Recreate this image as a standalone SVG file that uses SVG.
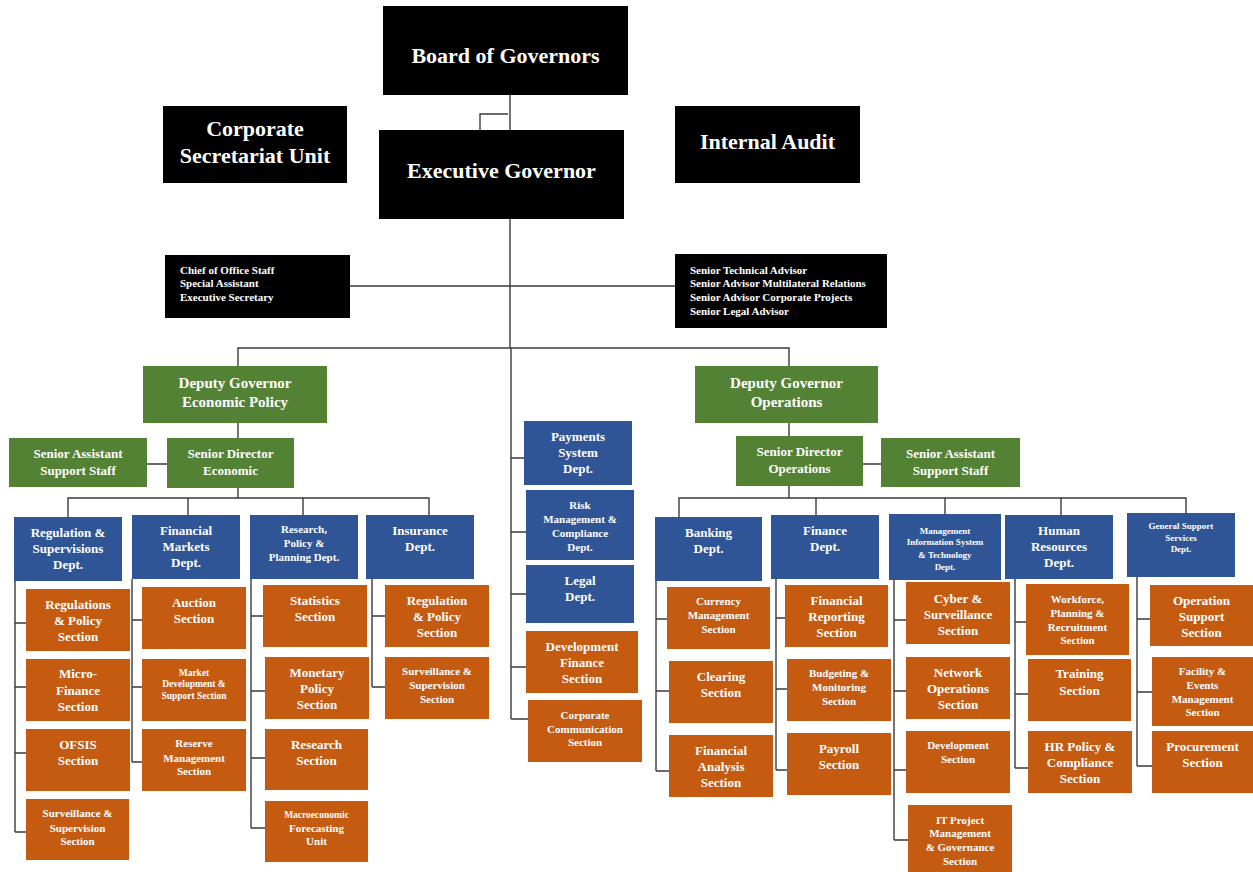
<svg xmlns="http://www.w3.org/2000/svg" width="1253" height="872" viewBox="0 0 1253 872">
<style>
.blk{fill:#000}
.grn{fill:#548235}
.blu{fill:#2F5597}
.org{fill:#C55A11}
text{font-family:"Liberation Serif","Times New Roman",serif;font-weight:bold;fill:#fff;text-anchor:middle}
.l{text-anchor:start}
.f22{font-size:22px}.f15{font-size:15px}.f13{font-size:13px}.f11{font-size:11px}.f95{font-size:9.5px}.f9{font-size:9px}
#connectors path{fill:none;stroke:#3a3a3a;stroke-width:1.4}
</style>
<rect width="1253" height="872" fill="#fff"/>
<g id="connectors">
<path d="M510 95V130M480 130V114H508M510 219V348M350 286H675M238 366V348H789V366"/>
<path d="M511 348V719M511 458H524M511 532H526M511 594H526M511 667H526M511 719H528"/>
<path d="M238 423V438M147 464H167M238 488V498M68 517V498H429V515M188 498V515M303 498V515"/>
<path d="M15 581V832M15 623H26M15 687H26M15 753H26M15 832H26"/>
<path d="M132 579V762M132 620H142M132 687H142M132 762H142"/>
<path d="M251 579V828M251 616H263M251 691H265M251 758H265M251 828H265"/>
<path d="M372 579V687M372 616H385M372 687H385"/>
<path d="M789 423V436M863 464H881M789 486V498M679 517V498H1186V513M816 498V515M945 498V514M1061 498V515"/>
<path d="M656 581V771M656 619H667M656 691H669M656 771H669"/>
<path d="M776 579V770M776 618H785M776 689H787M776 770H787"/>
<path d="M894 580V840M894 620H906M894 691H906M894 770H906M894 840H908"/>
<path d="M1015 579V768M1015 622H1026M1015 694H1028M1015 768H1028"/>
<path d="M1137 577V766M1137 619H1150M1137 692H1152M1137 766H1152"/>
</g>
<g id="board"><rect class="blk" x="383" y="6" width="245" height="89"/><text class="f22" x="505.5" y="63">Board of Governors</text></g>
<g id="corpsec"><rect class="blk" x="163" y="106" width="184" height="77"/><text class="f22"><tspan x="255" y="136">Corporate</tspan><tspan x="255" y="163">Secretariat Unit</tspan></text></g>
<g id="execgov"><rect class="blk" x="379" y="130" width="245" height="89"/><text class="f22" x="501.5" y="178">Executive Governor</text></g>
<g id="audit"><rect class="blk" x="675" y="106" width="185" height="77"/><text class="f22" x="767.5" y="149">Internal Audit</text></g>
<g id="chief"><rect class="blk" x="165" y="255" width="185" height="63"/><text class="f11 l"><tspan x="180" y="273.6">Chief of Office Staff</tspan><tspan x="180" y="286.6">Special Assistant</tspan><tspan x="180" y="301">Executive Secretary</tspan></text></g>
<g id="advisors"><rect class="blk" x="675" y="254" width="212" height="74"/><text class="f11 l"><tspan x="690" y="273.6">Senior Technical Advisor</tspan><tspan x="690" y="286.6">Senior Advisor Multilateral Relations</tspan><tspan x="690" y="300.6">Senior Advisor Corporate Projects</tspan><tspan x="690" y="314.6">Senior Legal Advisor</tspan></text></g>
<g id="dg-econ"><rect class="grn" x="143" y="366" width="184" height="57"/><text class="f15"><tspan x="235" y="388">Deputy Governor</tspan><tspan x="235" y="407">Economic Policy</tspan></text></g>
<g id="sass-econ"><rect class="grn" x="9" y="438" width="138" height="49"/><text class="f13"><tspan x="78" y="458.3">Senior Assistant</tspan><tspan x="78" y="475.3">Support Staff</tspan></text></g>
<g id="sd-econ"><rect class="grn" x="167" y="438" width="127" height="50"/><text class="f13"><tspan x="230.5" y="458.3">Senior Director</tspan><tspan x="230.5" y="475.3">Economic</tspan></text></g>
<g id="dg-ops"><rect class="grn" x="695" y="366" width="183" height="57"/><text class="f15"><tspan x="786.5" y="388">Deputy Governor</tspan><tspan x="786.5" y="407">Operations</tspan></text></g>
<g id="sd-ops"><rect class="grn" x="736" y="436" width="127" height="50"/><text class="f13"><tspan x="799.5" y="456.3">Senior Director</tspan><tspan x="799.5" y="473.3">Operations</tspan></text></g>
<g id="sass-ops"><rect class="grn" x="881" y="438" width="139" height="49"/><text class="f13"><tspan x="950.5" y="458.3">Senior Assistant</tspan><tspan x="950.5" y="475.3">Support Staff</tspan></text></g>
<g id="payments"><rect class="blu" x="524" y="421" width="108" height="64"/><text class="f13"><tspan x="578" y="441.3">Payments</tspan><tspan x="578" y="457.3">System</tspan><tspan x="578" y="473.3">Dept.</tspan></text></g>
<g id="risk"><rect class="blu" x="526" y="490" width="108" height="70"/><text class="f11"><tspan x="580" y="508.6">Risk</tspan><tspan x="580" y="522.6">Management &amp;</tspan><tspan x="580" y="536.6">Compliance</tspan><tspan x="580" y="550.6">Dept.</tspan></text></g>
<g id="legal"><rect class="blu" x="526" y="565" width="108" height="58"/><text class="f13"><tspan x="580" y="585.3">Legal</tspan><tspan x="580" y="601.3">Dept.</tspan></text></g>
<g id="devfin"><rect class="org" x="526" y="631" width="112" height="62"/><text class="f13"><tspan x="582" y="651.3">Development</tspan><tspan x="582" y="667.3">Finance</tspan><tspan x="582" y="683.3">Section</tspan></text></g>
<g id="corpcomm"><rect class="org" x="528" y="700" width="114" height="62"/><text class="f11"><tspan x="585" y="718.6">Corporate</tspan><tspan x="585" y="732.6">Communication</tspan><tspan x="585" y="745.6">Section</tspan></text></g>
<g id="regsup"><rect class="blu" x="14" y="517" width="108" height="64"/><text class="f13"><tspan x="68" y="537.3">Regulation &amp;</tspan><tspan x="68" y="553.3">Supervisions</tspan><tspan x="68" y="569.3">Dept.</tspan></text></g>
<g id="finmkts"><rect class="blu" x="132" y="515" width="108" height="64"/><text class="f13"><tspan x="186" y="535.3">Financial</tspan><tspan x="186" y="551.3">Markets</tspan><tspan x="186" y="567.3">Dept.</tspan></text></g>
<g id="rpp"><rect class="blu" x="250" y="515" width="108" height="64"/><text class="f11"><tspan x="304" y="532.6">Research,</tspan><tspan x="304" y="546.6">Policy &amp;</tspan><tspan x="304" y="560.6">Planning Dept.</tspan></text></g>
<g id="insurance"><rect class="blu" x="366" y="515" width="108" height="64"/><text class="f13"><tspan x="420" y="535.3">Insurance</tspan><tspan x="420" y="551.3">Dept.</tspan></text></g>
<g id="regpol"><rect class="org" x="26" y="589" width="104" height="62"/><text class="f13"><tspan x="78" y="609.3">Regulations</tspan><tspan x="78" y="625.3">&amp; Policy</tspan><tspan x="78" y="641.3">Section</tspan></text></g>
<g id="microfin"><rect class="org" x="26" y="659" width="104" height="62"/><text class="f13"><tspan x="78" y="678.3">Micro-</tspan><tspan x="78" y="695.3">Finance</tspan><tspan x="78" y="711.3">Section</tspan></text></g>
<g id="ofsis"><rect class="org" x="26" y="729" width="104" height="62"/><text class="f13"><tspan x="78" y="749.3">OFSIS</tspan><tspan x="78" y="765.3">Section</tspan></text></g>
<g id="survsup"><rect class="org" x="26" y="799" width="103" height="61"/><text class="f11"><tspan x="77.5" y="816.6">Surveillance &amp;</tspan><tspan x="77.5" y="831.6">Supervision</tspan><tspan x="77.5" y="844.6">Section</tspan></text></g>
<g id="auction"><rect class="org" x="142" y="587" width="104" height="62"/><text class="f13"><tspan x="194" y="607.3">Auction</tspan><tspan x="194" y="623.3">Section</tspan></text></g>
<g id="mktdev"><rect class="org" x="142" y="659" width="104" height="62"/><text class="f95"><tspan x="194" y="676">Market</tspan><tspan x="194" y="687">Development &amp;</tspan><tspan x="194" y="699">Support Section</tspan></text></g>
<g id="reserve"><rect class="org" x="142" y="729" width="104" height="62"/><text class="f11"><tspan x="194" y="746.6">Reserve</tspan><tspan x="194" y="761.6">Management</tspan><tspan x="194" y="774.6">Section</tspan></text></g>
<g id="statistics"><rect class="org" x="263" y="585" width="104" height="62"/><text class="f13"><tspan x="315" y="605.3">Statistics</tspan><tspan x="315" y="621.3">Section</tspan></text></g>
<g id="monetary"><rect class="org" x="265" y="657" width="104" height="62"/><text class="f13"><tspan x="317" y="677.3">Monetary</tspan><tspan x="317" y="693.3">Policy</tspan><tspan x="317" y="709.3">Section</tspan></text></g>
<g id="research"><rect class="org" x="265" y="729" width="103" height="61"/><text class="f13"><tspan x="316.5" y="749.3">Research</tspan><tspan x="316.5" y="765.3">Section</tspan></text></g>
<g id="macro"><rect class="org" x="265" y="801" width="103" height="61"/><text><tspan class="f95" x="316.5" y="818">Macroeconomic</tspan><tspan class="f11" x="316.5" y="831.6">Forecasting</tspan><tspan class="f11" x="316.5" y="844.6">Unit</tspan></text></g>
<g id="ins-regpol"><rect class="org" x="385" y="585" width="104" height="62"/><text class="f13"><tspan x="437" y="605.3">Regulation</tspan><tspan x="437" y="621.3">&amp; Policy</tspan><tspan x="437" y="637.3">Section</tspan></text></g>
<g id="ins-surv"><rect class="org" x="385" y="657" width="104" height="62"/><text class="f11"><tspan x="437" y="674.6">Surveillance &amp;</tspan><tspan x="437" y="688.6">Supervision</tspan><tspan x="437" y="702.6">Section</tspan></text></g>
<g id="banking"><rect class="blu" x="655" y="517" width="107" height="64"/><text class="f13"><tspan x="708.5" y="537.3">Banking</tspan><tspan x="708.5" y="553.3">Dept.</tspan></text></g>
<g id="finance"><rect class="blu" x="771" y="515" width="108" height="64"/><text class="f13"><tspan x="825" y="535.3">Finance</tspan><tspan x="825" y="551.3">Dept.</tspan></text></g>
<g id="mis"><rect class="blu" x="889" y="514" width="112" height="66"/><text class="f9"><tspan x="945" y="534">Management</tspan><tspan x="945" y="545">Information System</tspan><tspan x="945" y="558">&amp; Technology</tspan><tspan x="945" y="570">Dept.</tspan></text></g>
<g id="hr"><rect class="blu" x="1005" y="515" width="108" height="64"/><text class="f13"><tspan x="1059" y="535.3">Human</tspan><tspan x="1059" y="551.3">Resources</tspan><tspan x="1059" y="567.3">Dept.</tspan></text></g>
<g id="gss"><rect class="blu" x="1127" y="513" width="108" height="64"/><text class="f9"><tspan x="1181" y="529">General Support</tspan><tspan x="1181" y="541">Services</tspan><tspan x="1181" y="552">Dept.</tspan></text></g>
<g id="currency"><rect class="org" x="667" y="587" width="103" height="62"/><text class="f11"><tspan x="718.5" y="604.6">Currency</tspan><tspan x="718.5" y="618.6">Management</tspan><tspan x="718.5" y="632.6">Section</tspan></text></g>
<g id="clearing"><rect class="org" x="669" y="661" width="104" height="62"/><text class="f13"><tspan x="721" y="681.3">Clearing</tspan><tspan x="721" y="697.3">Section</tspan></text></g>
<g id="finanalysis"><rect class="org" x="669" y="735" width="104" height="62"/><text class="f13"><tspan x="721" y="754.8">Financial</tspan><tspan x="721" y="771.3">Analysis</tspan><tspan x="721" y="787.3">Section</tspan></text></g>
<g id="finreporting"><rect class="org" x="785" y="585" width="103" height="62"/><text class="f13"><tspan x="836.5" y="605.3">Financial</tspan><tspan x="836.5" y="621.3">Reporting</tspan><tspan x="836.5" y="637.3">Section</tspan></text></g>
<g id="budgeting"><rect class="org" x="787" y="659" width="104" height="62"/><text class="f11"><tspan x="839" y="676.6">Budgeting &amp;</tspan><tspan x="839" y="690.6">Monitoring</tspan><tspan x="839" y="704.6">Section</tspan></text></g>
<g id="payroll"><rect class="org" x="787" y="733" width="104" height="62"/><text class="f13"><tspan x="839" y="753.3">Payroll</tspan><tspan x="839" y="769.3">Section</tspan></text></g>
<g id="cyber"><rect class="org" x="906" y="582" width="104" height="62"/><text class="f13"><tspan x="958" y="603.3">Cyber &amp;</tspan><tspan x="958" y="619.3">Surveillance</tspan><tspan x="958" y="635.3">Section</tspan></text></g>
<g id="network"><rect class="org" x="906" y="657" width="104" height="62"/><text class="f13"><tspan x="958" y="677.3">Network</tspan><tspan x="958" y="693.3">Operations</tspan><tspan x="958" y="709.3">Section</tspan></text></g>
<g id="devsection"><rect class="org" x="906" y="731" width="104" height="62"/><text class="f11"><tspan x="958" y="748.6">Development</tspan><tspan x="958" y="762.6">Section</tspan></text></g>
<g id="itproject"><rect class="org" x="908" y="805" width="104" height="67"/><text class="f11"><tspan x="960" y="823.6">IT Project</tspan><tspan x="960" y="836.6">Management</tspan><tspan x="960" y="850.6">&amp; Governance</tspan><tspan x="960" y="864.6">Section</tspan></text></g>
<g id="workforce"><rect class="org" x="1026" y="584" width="103" height="71"/><text class="f11"><tspan x="1077.5" y="602.6">Workforce,</tspan><tspan x="1077.5" y="616.6">Planning &amp;</tspan><tspan x="1077.5" y="630.6">Recruitment</tspan><tspan x="1077.5" y="643.6">Section</tspan></text></g>
<g id="training"><rect class="org" x="1028" y="659" width="103" height="62"/><text class="f13"><tspan x="1079.5" y="678.3">Training</tspan><tspan x="1079.5" y="695.3">Section</tspan></text></g>
<g id="hrpolicy"><rect class="org" x="1028" y="731" width="104" height="62"/><text class="f13"><tspan x="1080" y="751.3">HR Policy &amp;</tspan><tspan x="1080" y="767.3">Compliance</tspan><tspan x="1080" y="783.3">Section</tspan></text></g>
<g id="opsupport"><rect class="org" x="1150" y="585" width="103" height="61"/><text class="f13"><tspan x="1201.5" y="605.3">Operation</tspan><tspan x="1201.5" y="621.3">Support</tspan><tspan x="1201.5" y="637.3">Section</tspan></text></g>
<g id="facility"><rect class="org" x="1152" y="657" width="101" height="69"/><text class="f11"><tspan x="1202.5" y="674.6">Facility &amp;</tspan><tspan x="1202.5" y="688.6">Events</tspan><tspan x="1202.5" y="702.6">Management</tspan><tspan x="1202.5" y="715.6">Section</tspan></text></g>
<g id="procurement"><rect class="org" x="1152" y="731" width="101" height="62"/><text class="f13"><tspan x="1202.5" y="751.3">Procurement</tspan><tspan x="1202.5" y="767.3">Section</tspan></text></g>
</svg>
